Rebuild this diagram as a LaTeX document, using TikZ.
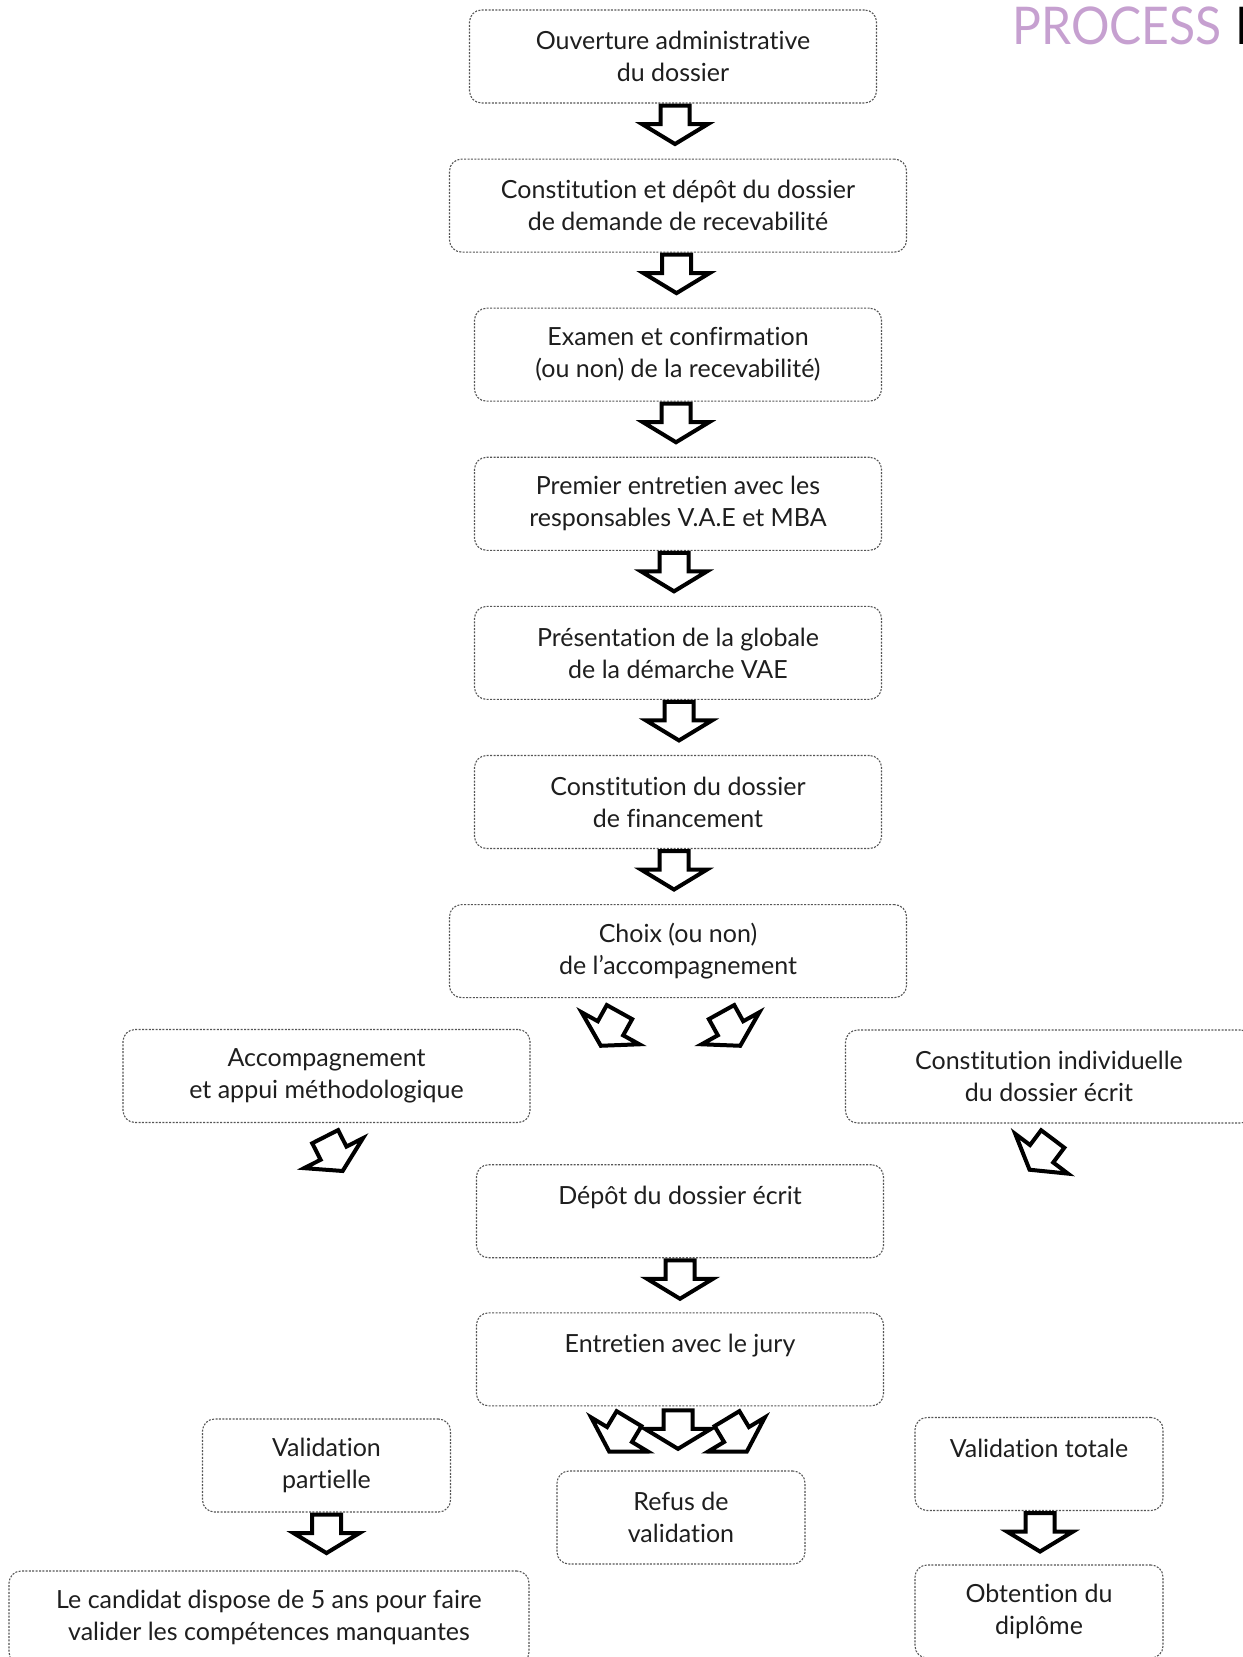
\documentclass[tikz,border=0pt]{standalone}
\usepackage{fontspec}
\setmainfont{Lato}[Ligatures=NoCommon]
\newfontfamily\titlefont{Lato}[FakeStretch=0.925]
\usetikzlibrary{positioning,calc}
\definecolor{BorderGrey}{RGB}{85,85,85}
\definecolor{TextGrey}{RGB}{30,30,30}
\definecolor{TitleMauve}{RGB}{198,160,208}
\tikzset{
  stage/.style={draw=BorderGrey,line width=0.55pt,dash pattern=on 1pt off 0.7pt,
    rounded corners=6pt,minimum height=46.5pt,align=center,text=TextGrey,
    font=\fontsize{12.5}{16}\selectfont,inner sep=0pt},
  widestage/.style={stage,minimum width=228.5pt},
  midstage/.style={stage,minimum width=203.5pt},
  smallstage/.style={stage,minimum width=124pt},
  blockarrow/.pic={
    \draw[line width=2pt,miter limit=10,fill=white]
      (-14.5,-19.5) -- (14.5,-19.5) -- (14.5,-1) -- (33,-1) -- (0,19)
      -- (-33,-1) -- (-14.5,-1) -- cycle;
  }
}

\begin{document}
\begin{tikzpicture}[x=0.5pt,y=-0.5pt,node distance=27.5pt]
  \useasboundingbox (0,0) rectangle (1242,1657);

  % title
  \node[anchor=base west,inner sep=0pt,text=TitleMauve,
    font=\titlefont\fontsize{26}{26}\selectfont] (title) at (1012,45) {PROCESS};
  \node[anchor=base west,inner sep=0pt,
    font=\titlefont\fontsize{26}{26}\selectfont] (titlecut) at (1235,45) {D};

  % main column
  \node[midstage] (ouverture) at (673,56.5) {Ouverture administrative\\du dossier};
  \node[widestage,below=of ouverture,xshift=2.5pt] (constitution) {Constitution et dépôt du dossier\\de demande de recevabilité};
  \node[midstage,below=of constitution] (examen) {Examen et confirmation\\(ou non) de la recevabilité)};
  \node[midstage,below=of examen] (entretien) {Premier entretien avec les\\responsables V.A.E et MBA};
  \node[midstage,below=of entretien] (presentation) {Présentation de la globale\\de la démarche VAE};
  \node[midstage,below=of presentation] (financement) {Constitution du dossier\\de financement};
  \node[widestage,below=of financement] (choix) {Choix (ou non)\\de l'accompagnement};

  % two branches
  \node[midstage] (accomp) at (326.5,1076) {Accompagnement\\et appui méthodologique};
  \node[midstage] (individuelle) at (1049,1076.5) {Constitution individuelle\\du dossier écrit};

  \node[midstage,below=83pt of choix,xshift=1pt] (ecrit) {Dépôt du dossier écrit\\~};
  \node[midstage,below=27pt of ecrit] (jury) {Entretien avec le jury\\~};

  % results
  \node[smallstage] (partielle) at (326.5,1465.5) {Validation\\partielle};
  \node[smallstage] (refus) at (681,1517.5) {Refus de\\validation};
  \node[smallstage] (totale) at (1039,1464) {Validation totale\\~};
  \node[stage,minimum width=260pt] (candidat) at (269,1617.5) {Le candidat dispose de 5 ans pour faire\\valider les compétences manquantes};
  \node[smallstage] (diplome) at (1039,1611.5) {Obtention du\\diplôme};

  % block arrows
  \pic at ($(ouverture.south)+(2,21.5)$) {blockarrow};
  \pic at ($(constitution.south)+(-1.5,21.5)$) {blockarrow};
  \pic at ($(examen.south)+(-2,21.5)$) {blockarrow};
  \pic at ($(entretien.south)+(-4,21.5)$) {blockarrow};
  \pic at ($(presentation.south)+(1,21.5)$) {blockarrow};
  \pic at ($(financement.south)+(-4,21.5)$) {blockarrow};
  \pic[rotate=-29] at ($(choix.south)+(-68,31)$) {blockarrow};
  \pic[rotate=29] at ($(choix.south)+(53,31)$) {blockarrow};
  \pic[rotate=27] at ($(accomp.south)+(7.5,31)$) {blockarrow};
  \pic[rotate=-37] at ($(individuelle.south)+(-8,31)$) {blockarrow};
  \pic at ($(ecrit.south)+(0,21.5)$) {blockarrow};
  \pic[rotate=-31] at ($(jury.south)+(-61,29)$) {blockarrow};
  \pic[rotate=31] at ($(jury.south)+(57,29)$) {blockarrow};
  \pic at ($(jury.south)+(-2,23.5)$) {blockarrow};
  \pic at ($(partielle.south)+(0,21.5)$) {blockarrow};
  \pic at ($(totale.south)+(1,21.5)$) {blockarrow};
\end{tikzpicture}
\end{document}
